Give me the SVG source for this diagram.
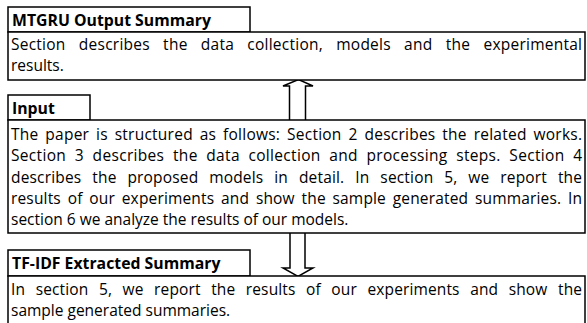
<svg xmlns="http://www.w3.org/2000/svg" width="587" height="323" viewBox="0 0 587 323">
<style>
.box{fill:#fff;stroke:#000;stroke-width:1.5}
.arrow{fill:#fff;stroke:#000;stroke-width:1.5;stroke-linejoin:miter}
.t{font-family:"Open Sans","Liberation Sans",Arial,sans-serif;font-size:15.5px;fill:#000}
.h{font-family:"Open Sans","Liberation Sans",Arial,sans-serif;font-size:15.8px;font-weight:bold;fill:#000}
</style>
<rect width="587" height="323" fill="#fff"/>
<g id="connectors">
<path class="arrow" d="M289.5,120 L289.5,86 L283,86 L298.5,79.5 L313,86 L305.5,86 L305.5,120"/>
<path class="arrow" d="M290,233 L290,268 L283,268 L298,276.5 L313,268 L305,268 L305,233"/>
</g>
<g id="mtgru">
<rect class="box" x="8" y="7" width="242" height="25"/>
<text class="h" x="12" y="26">MTGRU Output Summary</text>
<rect class="box" x="8" y="32" width="577" height="48"/>
<text class="t" x="11" y="50" word-spacing="9" textLength="571" lengthAdjust="spacing">Section describes the data collection, models and the experimental</text>
<text class="t" x="11" y="71">results.</text>
</g>
<g id="input">
<rect class="box" x="8" y="95" width="82" height="25"/>
<text class="h" x="12" y="114">Input</text>
<rect class="box" x="8" y="120" width="577" height="113"/>
<text class="t" x="11" y="140" word-spacing="2.6" textLength="571" lengthAdjust="spacing">The paper is structured as follows: Section 2 describes the related works.</text>
<text class="t" x="11" y="161" word-spacing="4.3" textLength="571" lengthAdjust="spacing">Section 3 describes the data collection and processing steps. Section 4</text>
<text class="t" x="11" y="182.5" word-spacing="6.7" textLength="571" lengthAdjust="spacing">describes the proposed models in detail. In section 5, we report the</text>
<text class="t" x="11" y="204" word-spacing="2.6" textLength="571" lengthAdjust="spacing">results of our experiments and show the sample generated summaries. In</text>
<text class="t" x="11" y="225">section 6 we analyze the results of our models.</text>
</g>
<g id="tfidf">
<rect class="box" x="8" y="250" width="242" height="26"/>
<text class="h" x="12" y="269">TF-IDF Extracted Summary</text>
<rect class="box" x="8" y="276" width="577" height="60"/>
<text class="t" x="11" y="295" word-spacing="6.4" textLength="571" lengthAdjust="spacing">In section 5, we report the results of our experiments and show the</text>
<text class="t" x="11" y="316">sample generated summaries.</text>
</g>
</svg>
